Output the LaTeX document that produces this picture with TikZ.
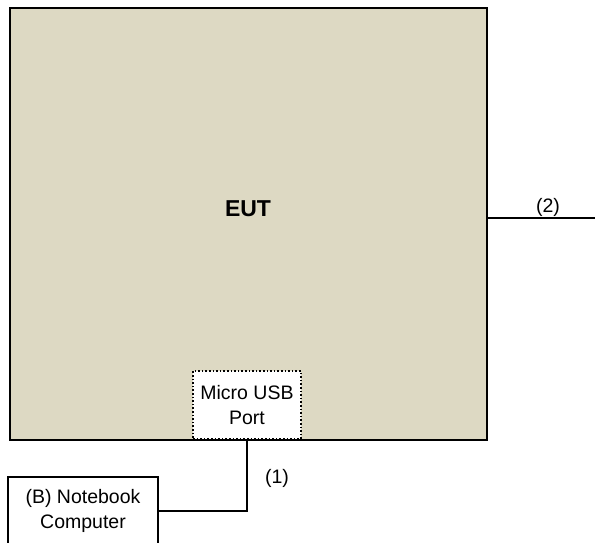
\documentclass[tikz,border=0pt]{standalone}
\usepackage{fontspec}
\setmainfont{Liberation Sans}
\definecolor{eutfill}{HTML}{DDD9C3}
\begin{document}
\begin{tikzpicture}[x=1pt,y=-1pt,
  txt/.style={font=\fontsize{19.5}{25}\selectfont, align=center},
  eutbox/.style={draw=black, line width=2.2pt, fill=eutfill, minimum width=477pt, minimum height=432pt, inner sep=0pt},
  portbox/.style={draw=black, dotted, line width=1.6pt, fill=white, minimum width=108pt, minimum height=68pt, inner sep=0pt, txt},
  pcbox/.style={draw=black, line width=1.8pt, fill=white, minimum width=150pt, minimum height=68pt, inner sep=0pt, txt},
  wire/.style={draw=black, line width=1.8pt}
]
\useasboundingbox (0,0) rectangle (595,543);
\node[eutbox] (eut) at (248.5,224) {};
\node[font=\fontsize{23}{28}\selectfont\bfseries] (eutlbl) at (248,209) {EUT};
\node[portbox] (usb) at (247,405) {Micro USB\\Port};
\node[pcbox] (nb) at (83,511) {(B) Notebook\\Computer};
\coordinate (p2) at (600,218);
\draw[wire] (usb.south) |- (nb.east);
\draw[wire] (eut.east |- p2) -- (p2);
\node[txt] (l1) at (277,478) {(1)};
\node[txt] (l2) at (548,207) {(2)};
\end{tikzpicture}
\end{document}
